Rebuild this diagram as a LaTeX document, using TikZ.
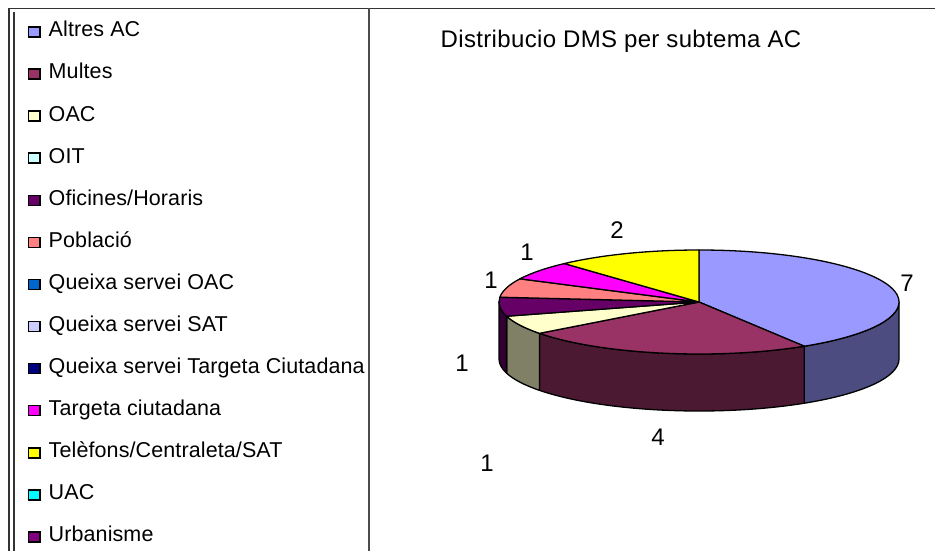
\documentclass[tikz,border=0pt]{standalone}
\usepackage{fontspec}
\setmainfont{Liberation Sans}
\newfontfamily\titlefont[LetterSpace=1.4]{Liberation Sans}
\newfontfamily\keyfont[LetterSpace=0.5]{Liberation Sans}
\usepackage{xcolor}
\usepackage{tikz}
\usetikzlibrary{shapes,arrows}
\definecolor{altres}{HTML}{9999FF}
\definecolor{multes}{HTML}{993366}
\definecolor{oac}{HTML}{FFFFCC}
\definecolor{oit}{HTML}{CCFFFF}
\definecolor{oficines}{HTML}{660066}
\definecolor{poblacio}{HTML}{FF8080}
\definecolor{qoac}{HTML}{0066CC}
\definecolor{qsat}{HTML}{CCCCFF}
\definecolor{qtc}{HTML}{000080}
\definecolor{targeta}{HTML}{FF00FF}
\definecolor{telefons}{HTML}{FFFF00}
\definecolor{uac}{HTML}{00FFFF}
\definecolor{urbanisme}{HTML}{800080}
\tikzstyle{key} = [rectangle, draw=black, line width=1.5pt, minimum width=11.5pt,
    minimum height=10pt, inner sep=0pt]
\tikzstyle{item} = [anchor=base west, inner sep=0pt, font=\keyfont\fontsize{21.5}{25}\selectfont]
\tikzstyle{val} = [inner sep=0pt, font=\fontsize{24}{28}\selectfont]
\tikzstyle{title} = [anchor=base, inner sep=0pt, font=\titlefont\fontsize{24}{28}\selectfont]
\tikzstyle{face} = [draw=black, line width=1.3pt, line join=round]
\tikzstyle{frame} = [draw=black!80, line width=1.6pt]

\begin{document}
\begin{tikzpicture}[x=1pt,y=1pt,node distance=42.08pt]
      \useasboundingbox (0,0) rectangle (935,-551);
      % frame
      \draw [frame] (9,-8.5) -- (935,-8.5);
      \draw [frame] (9,-8.5) -- (9,-551);
      \draw [frame] (14,-12) -- (14,-551);
      \draw [frame, draw=black!70, line width=2pt] (369,-8.5) -- (369,-551);

      % legend
      \node [key, fill=altres] (kAltres) at (34,-32) {};
      \node [key, fill=multes, below of=kAltres] (kMultes) {};
      \node [key, fill=oac, below of=kMultes] (kOAC) {};
      \node [key, fill=oit, below of=kOAC] (kOIT) {};
      \node [key, fill=oficines, below of=kOIT] (kOficines) {};
      \node [key, fill=poblacio, below of=kOficines] (kPoblacio) {};
      \node [key, fill=qoac, below of=kPoblacio] (kQOAC) {};
      \node [key, fill=qsat, below of=kQOAC] (kQSAT) {};
      \node [key, fill=qtc, below of=kQSAT] (kQTC) {};
      \node [key, fill=targeta, below of=kQTC] (kTargeta) {};
      \node [key, fill=telefons, below of=kTargeta] (kTelefons) {};
      \node [key, fill=uac, below of=kTelefons] (kUAC) {};
      \node [key, fill=urbanisme, below of=kUAC] (kUrbanisme) {};

      \node [item] (tAltres) at ([xshift=8pt,yshift=-4.9pt]kAltres.east) {Altres AC};
      \node [item] (tMultes) at ([xshift=8pt,yshift=-4.9pt]kMultes.east) {Multes};
      \node [item] (tOAC) at ([xshift=8pt,yshift=-4.9pt]kOAC.east) {OAC};
      \node [item] (tOIT) at ([xshift=8pt,yshift=-4.9pt]kOIT.east) {OIT};
      \node [item] (tOficines) at ([xshift=8pt,yshift=-4.9pt]kOficines.east) {Oficines/Horaris};
      \node [item] (tPoblacio) at ([xshift=8pt,yshift=-4.9pt]kPoblacio.east) {Població};
      \node [item] (tQOAC) at ([xshift=8pt,yshift=-4.9pt]kQOAC.east) {Queixa servei OAC};
      \node [item] (tQSAT) at ([xshift=8pt,yshift=-4.9pt]kQSAT.east) {Queixa servei SAT};
      \node [item] (tQTC) at ([xshift=8pt,yshift=-4.9pt]kQTC.east) {Queixa servei Targeta Ciutadana};
      \node [item] (tTargeta) at ([xshift=8pt,yshift=-4.9pt]kTargeta.east) {Targeta ciutadana};
      \node [item] (tTelefons) at ([xshift=8pt,yshift=-4.9pt]kTelefons.east) {Telèfons/Centraleta/SAT};
      \node [item] (tUAC) at ([xshift=8pt,yshift=-4.9pt]kUAC.east) {UAC};
      \node [item] (tUrbanisme) at ([xshift=8pt,yshift=-4.9pt]kUrbanisme.east) {Urbanisme};

      \node [title] (titol) at (621,-48) {Distribucio DMS per subtema AC};

      % pie, sides first
      \begin{scope}[shift={(699,-302)}]
      \filldraw [face, fill=altres!50!black] ({200*cos(-58.235)},{52*sin(-58.235)})
          arc [start angle=-58.235, end angle=0, x radius=200, y radius=52] -- ++(0,-57)
          arc [start angle=0, end angle=-58.235, x radius=200, y radius=52] -- cycle;
      \filldraw [face, fill=multes!50!black] ({200*cos(-142.941)},{52*sin(-142.941)})
          arc [start angle=-142.941, end angle=-58.235, x radius=200, y radius=52] -- ++(0,-57)
          arc [start angle=-58.235, end angle=-142.941, x radius=200, y radius=52] -- cycle;
      \filldraw [face, fill=oac!50!black] ({200*cos(-164.118)},{52*sin(-164.118)})
          arc [start angle=-164.118, end angle=-142.941, x radius=200, y radius=52] -- ++(0,-57)
          arc [start angle=-142.941, end angle=-164.118, x radius=200, y radius=52] -- cycle;
      \filldraw [face, fill=oficines!50!black] ({200*cos(-180)},{52*sin(-180)})
          arc [start angle=-180, end angle=-164.118, x radius=200, y radius=52] -- ++(0,-57)
          arc [start angle=-164.118, end angle=-180, x radius=200, y radius=52] -- cycle;
      % top
      \filldraw [face, fill=altres] (0,0) -- ({200*cos(90)},{52*sin(90)})
          arc [start angle=90, end angle=-58.235, x radius=200, y radius=52] -- cycle;
      \filldraw [face, fill=multes] (0,0) -- ({200*cos(-58.235)},{52*sin(-58.235)})
          arc [start angle=-58.235, end angle=-142.941, x radius=200, y radius=52] -- cycle;
      \filldraw [face, fill=oac] (0,0) -- ({200*cos(-142.941)},{52*sin(-142.941)})
          arc [start angle=-142.941, end angle=-164.118, x radius=200, y radius=52] -- cycle;
      \filldraw [face, fill=oficines] (0,0) -- ({200*cos(-164.118)},{52*sin(-164.118)})
          arc [start angle=-164.118, end angle=-185.294, x radius=200, y radius=52] -- cycle;
      \filldraw [face, fill=poblacio] (0,0) -- ({200*cos(-185.294)},{52*sin(-185.294)})
          arc [start angle=-185.294, end angle=-206.471, x radius=200, y radius=52] -- cycle;
      \filldraw [face, fill=targeta] (0,0) -- ({200*cos(-206.471)},{52*sin(-206.471)})
          arc [start angle=-206.471, end angle=-227.647, x radius=200, y radius=52] -- cycle;
      \filldraw [face, fill=telefons] (0,0) -- ({200*cos(-227.647)},{52*sin(-227.647)})
          arc [start angle=-227.647, end angle=-270, x radius=200, y radius=52] -- cycle;
      \end{scope}

      % values
      \node [val] (vAltres) at (907,-283) {7};
      \node [val] (vMultes) at (658,-437) {4};
      \node [val] (vOAC) at (487,-463) {1};
      \node [val] (vOficines) at (462,-363) {1};
      \node [val] (vPoblacio) at (491,-280) {1};
      \node [val] (vTargeta) at (527,-252) {1};
      \node [val] (vTelefons) at (617,-230) {2};

    \end{tikzpicture}
\end{document}
